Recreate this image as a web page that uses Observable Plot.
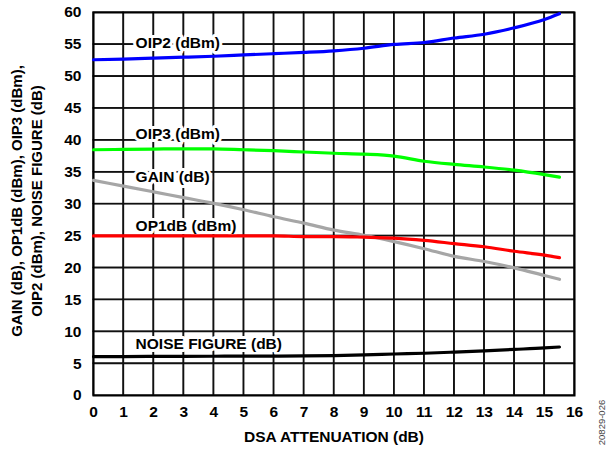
<!DOCTYPE html>
<html>
<head>
<meta charset="utf-8">
<script src="https://cdn.jsdelivr.net/npm/d3@7"></script>
<script src="https://cdn.jsdelivr.net/npm/@observablehq/plot@0.6"></script>
<style>
  html, body { margin: 0; padding: 0; background: #fff; }
  svg { display: block; }
</style>
</head>
<body>
<div id="chart"></div>
<script>
const atten = [0,1,2,3,4,5,6,7,8,9,10,11,12,13,14,15,15.5];
const oip2  = [52.6,52.7,52.85,53.0,53.15,53.35,53.55,53.75,54.0,54.4,55.0,55.3,56.0,56.6,57.6,58.9,59.8];
const oip3  = [38.5,38.55,38.6,38.65,38.65,38.5,38.35,38.15,37.95,37.8,37.5,36.7,36.2,35.8,35.3,34.6,34.2];
const gain  = [33.7,32.8,31.9,31.0,30.1,29.1,28.0,27.0,25.9,25.1,24.1,23.0,21.8,21.0,20.0,18.8,18.2];
const op1db = [25.0,25.0,25.0,25.0,25.0,25.0,25.0,24.9,24.9,24.8,24.65,24.3,23.8,23.3,22.6,22.0,21.6];
const nf    = [6.1,6.1,6.12,6.13,6.15,6.17,6.18,6.2,6.25,6.35,6.5,6.62,6.8,7.0,7.22,7.45,7.6];

const seriesNames  = ["OIP2 (dBm)","OIP3 (dBm)","GAIN (dB)","OP1dB (dBm)","NOISE FIGURE (dB)"];
const seriesColors = ["#0000ff","#00ff00","#a6a6a6","#ff0000","#000000"];
const seriesValues = [oip2, oip3, gain, op1db, nf];
const labelX = [1.4,1.4,1.4,1.4,1.4];
const labelY = [55.2,40.9,34.2,26.6,8.0];

const xTicks = [0,1,2,3,4,5,6,7,8,9,10,11,12,13,14,15,16];
const yTicks = [0,5,10,15,20,25,30,35,40,45,50,55,60];
const xTitle = "DSA ATTENUATION (dB)";
const yTitle = "GAIN (dB), OP1dB (dBm), OIP3 (dBm),\nOIP2 (dBm), NOISE FIGURE (dB)";
const figCode = "20829-026";

const rows = [];
seriesNames.forEach((s, i) => atten.forEach((a, j) => rows.push({series: s, x: a, y: seriesValues[i][j]})));
const labels = seriesNames.map((s, i) => ({series: s, x: labelX[i], y: labelY[i]}));

// grid cells (one rect per cell, built from the tick arrays)
const cells = [];
for (let i = 0; i < xTicks.length - 1; i++) {
  for (let j = 0; j < yTicks.length - 1; j++) {
    cells.push({x1: xTicks[i], x2: xTicks[i + 1], y1: yTicks[j], y2: yTicks[j + 1]});
  }
}
// grid as short segments between neighbouring ticks
const segs = [];
xTicks.forEach(v => {
  for (let j = 0; j < yTicks.length - 1; j++) {
    segs.push({g: `v${v}_${j}`, x: v, y: yTicks[j]}, {g: `v${v}_${j}`, x: v, y: yTicks[j + 1]});
  }
});
yTicks.forEach(v => {
  for (let i = 0; i < xTicks.length - 1; i++) {
    segs.push({g: `h${v}_${i}`, x: xTicks[i], y: v}, {g: `h${v}_${i}`, x: xTicks[i + 1], y: v});
  }
});

const font = "'Liberation Sans', Arial, sans-serif";

const chart = Plot.plot({
  width: 607,
  height: 452,
  marginLeft: 93,
  marginRight: 33,
  marginTop: 12,
  marginBottom: 57,
  style: {fontFamily: font, fontWeight: "bold", fontSize: "15px"},
  x: {domain: [xTicks[0], xTicks[xTicks.length - 1]], label: null},
  y: {domain: [yTicks[0], yTicks[yTicks.length - 1]], label: null},
  color: {domain: seriesNames, range: seriesColors},
  marks: [
    Plot.rect(cells, {x1: "x1", x2: "x2", y1: "y1", y2: "y2", fill: "none", stroke: "#111111", strokeWidth: 1.2}),
    Plot.line(segs, {x: "x", y: "y", z: "g", stroke: "#111111", strokeWidth: 1.2}),
    Plot.frame({stroke: "black", fill: "none", strokeWidth: 2}),
    Plot.text(labels, {x: "x", y: "y", text: "series", textAnchor: "start", fill: "white",
      stroke: "white", strokeWidth: 6, fontSize: 15.5, fontWeight: "bold"}),
    Plot.line(rows, {x: "x", y: "y", z: "series", stroke: "series", strokeWidth: 3.2, curve: "monotone-x"}),
    Plot.text(labels, {x: "x", y: "y", text: "series", textAnchor: "start", fill: "black",
      fontSize: 15.5, fontWeight: "bold"}),
    Plot.axisX({ticks: xTicks, tickSize: 0, tickPadding: 10, fontSize: 15.5, fontWeight: "bold", label: null}),
    Plot.axisY({ticks: yTicks, tickSize: 0, tickPadding: 12, fontSize: 15.5, fontWeight: "bold", label: null}),
    Plot.text([xTitle], {frameAnchor: "bottom", lineAnchor: "middle", textAnchor: "middle", dy: 42,
      fontSize: 15.5, fontWeight: "bold", fill: "black"}),
    Plot.text([yTitle], {frameAnchor: "left", rotate: -90, textAnchor: "middle", lineAnchor: "middle",
      dx: -68, dy: -3, fontSize: 15, fontWeight: "bold", fill: "black", lineHeight: 1.33}),
    Plot.text([figCode], {frameAnchor: "bottom-right", rotate: -90, textAnchor: "middle", lineAnchor: "middle",
      dx: 27, dy: 27, fontSize: 9.5, fontWeight: "normal", fill: "#444"})
  ]
});
document.getElementById("chart").appendChild(chart);
</script>
</body>
</html>
